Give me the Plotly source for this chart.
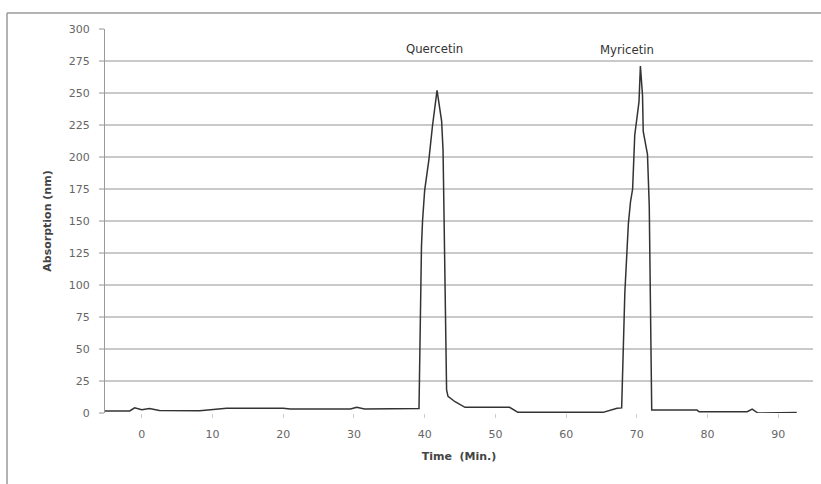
import plotly.graph_objects as go

# Chromatogram trace (time in minutes, absorption)
time_min = [-5.2, -1.7, -1.0, 0.0, 1.1, 2.5, 8.2, 12.0, 20.0, 21.0, 29.5, 30.4, 31.5,
            39.0, 39.2, 39.55, 39.7, 40.0, 40.6, 41.1, 41.75,
            42.4, 42.6, 42.75, 43.1, 43.3, 44.3, 45.7, 52.0, 53.2, 65.2, 67.2, 67.85,
            68.3, 68.8, 69.1, 69.4, 69.7, 70.3, 70.5,
            70.8, 70.9, 71.5, 71.75, 72.1, 78.5, 78.8, 85.6, 86.3, 87.1, 92.6]
absorption = [1.6, 1.6, 4.1, 2.5, 3.5, 2.0, 1.8, 3.7, 3.7, 3.1, 3.1, 4.5, 3.1,
              3.1, 3.5, 130, 150, 174, 198, 224, 252,
              228, 205, 150, 18, 13, 8.8, 4.4, 4.4, 0.5, 0.5, 3.7, 4.0,
              94, 148, 165, 175, 217, 243, 271,
              248, 220, 202, 162, 2.3, 2.3, 1.0, 1.0, 3.1, 0.0, 0.3]

peak_labels = ["Quercetin", "Myricetin"]
peak_label_x = [41.4, 68.6]
peak_label_y = [285, 284]

y_ticks = list(range(0, 301, 25))
x_ticks = list(range(0, 91, 10))

fig = go.Figure()
fig.add_trace(go.Scatter(x=time_min, y=absorption, mode="lines",
                         line=dict(color="#333333", width=1.5),
                         showlegend=False, hoverinfo="x+y"))

for name, lx, ly in zip(peak_labels, peak_label_x, peak_label_y):
    fig.add_annotation(x=lx, y=ly, text=name, showarrow=False,
                       font=dict(family="DejaVu Sans Condensed, Liberation Sans Narrow, Arial Narrow, sans-serif",
                                 size=13, color="#333333"))

border = "#9a9a9a"
fig.add_shape(type="line", xref="paper", yref="paper", x0=-0.1384, x1=-0.1384, y0=1.0417, y1=-0.19,
              line=dict(color=border, width=1.5))
fig.add_shape(type="line", xref="paper", yref="paper", x0=-0.1384, x1=1.02, y0=1.0417, y1=1.0417,
              line=dict(color=border, width=1.5))

fig.update_layout(
    width=821, height=484,
    margin=dict(l=105, r=8, t=29, b=71),
    paper_bgcolor="white", plot_bgcolor="white",
    font=dict(family="DejaVu Sans, sans-serif", color="#666666", size=11),
    xaxis=dict(range=[-5.19, 94.9], tickvals=x_ticks, showgrid=False, zeroline=False,
               showline=False, ticks="outside", ticklen=4, tickcolor="#cccccc",
               ticklabelstandoff=7,
               tickfont=dict(size=11, color="#666666"),
               title=dict(text="<b>Time  (Min.)</b>", standoff=12,
                          font=dict(size=11, color="#444444"))),
    yaxis=dict(range=[0, 300], tickvals=y_ticks, showgrid=True, gridcolor="#c9c9c9", gridwidth=2,
               zeroline=False, showline=True, linecolor="#9a9a9a", linewidth=1,
               ticks="outside", ticklen=5, tickcolor="#c9c9c9", tickwidth=2,
               ticklabelstandoff=7,
               tickfont=dict(size=11, color="#666666"),
               title=dict(text="<b>Absorption (nm)</b>", standoff=14,
                          font=dict(size=11, color="#444444"))),
)

fig.write_html("out.html")
